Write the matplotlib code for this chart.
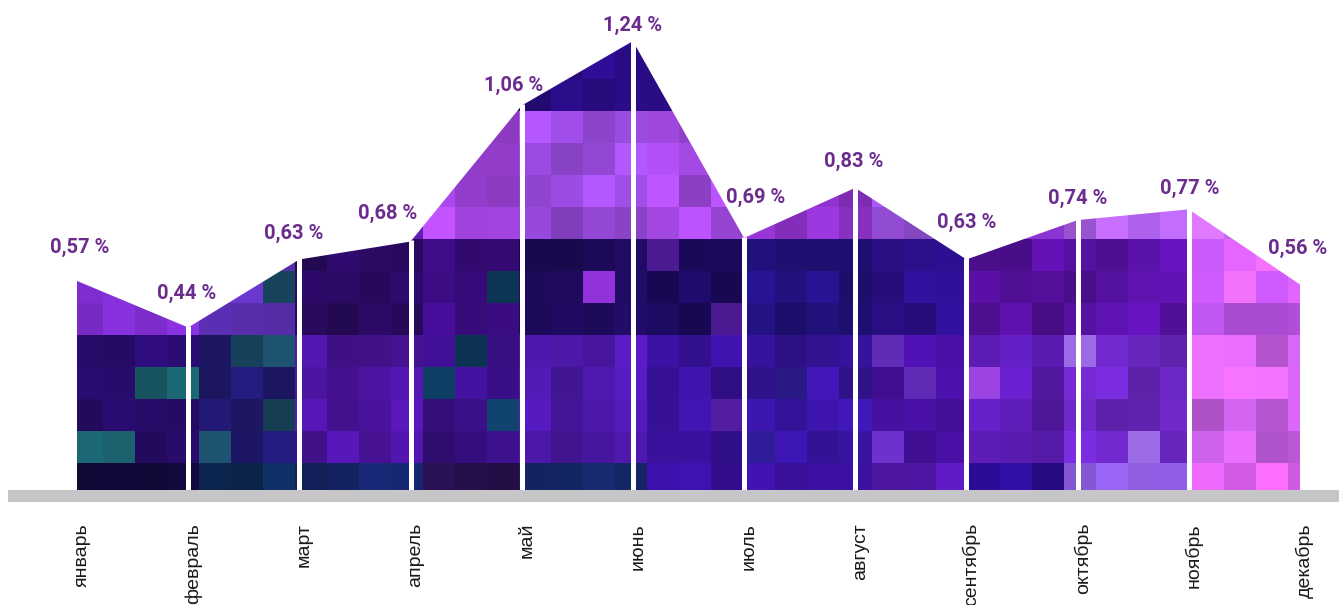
import numpy as np
import matplotlib
matplotlib.use("Agg")
import matplotlib.pyplot as plt
from matplotlib.patches import Polygon
from matplotlib.colors import to_rgb

# ---- data ----
months = ["январь", "февраль", "март", "апрель", "май", "июнь",
          "июль", "август", "сентябрь", "октябрь", "ноябрь", "декабрь"]
values = [0.57, 0.44, 0.63, 0.68, 1.06, 1.24, 0.69, 0.83, 0.63, 0.74, 0.77, 0.56]
value_labels = ["0,57 %", "0,44 %", "0,63 %", "0,68 %", "1,06 %", "1,24 %",
                "0,69 %", "0,83 %", "0,63 %", "0,74 %", "0,77 %", "0,56 %"]

# ---- layout (pixel offsets of value labels from their vertex) ----
label_dx = [3, -2, -6, -23, -8, 0, 12, -2, 0, 0, 1, -2]
label_dy = [33, 34, 26, 28, 20, 16, 41, 26, 37, 22, 21, 36]

# decorative mosaic palette: per month interval, bands bottom/lower/mid/upper
anchors = [
    ['#140a42', '#2a0c6e', '#7a2cc8', '#8a34d4'],
    ['#0e2a58', '#221a74', '#6434c4', '#8a3ad8'],
    ['#162468', '#4c14a0', '#2a0a62', '#5a1aaa'],
    ['#26104c', '#3a1088', '#3c0c84', '#a646e6'],
    ['#142460', '#4c18a8', '#1e0a5a', '#9c4ce2'],
    ['#38109e', '#3a12a0', '#1c0a60', '#a64ae6'],
    ['#3e12a6', '#3814a0', '#221280', '#9434d2'],
    ['#5418ac', '#4610a0', '#2e1092', '#9c52e2'],
    ['#2a0c8e', '#5c1cb4', '#56109e', '#8a34d2'],
    ['#8c5cde', '#6a26c0', '#5a12a8', '#b062f0'],
    ['#e464f8', '#d464f2', '#c256f0', '#c46af0'],
]
accents = ['#195a66', '#1a4a66', '#7a24c8', '#0e3a5e', '#8a30d0', '#5a20b0',
           '#2a1a8a', '#6a30c8', '#9a44e0', '#9868e0', '#f070f8']

W, H, DPI = 1339, 605, 100
fig = plt.figure(figsize=(W / DPI, H / DPI), dpi=DPI)
ax = fig.add_axes([0, 0, 1, 1])

PX_X = 111.18      # pixels per month
X0 = 77            # pixel of first month
PX_Y = 358.0       # pixels per unit
Y0 = 485           # pixel (from top) of zero
ax.set_xlim(-X0 / PX_X, (W - X0) / PX_X)
ax.set_ylim(-(H - Y0) / PX_Y, Y0 / PX_Y)
ax.axis("off")

x = np.arange(len(months))
vals = np.array(values)
base = -10 / PX_Y

# ---- mosaic texture (decoration) ----
ncols, nrows = 39, 15
col_px0 = 71
img = np.zeros((nrows, ncols, 3))
for r in range(nrows):
    yc = 495 - 32 * r - 16
    if yc > 463:
        band = 0
    elif yc > 337:
        band = 1
    elif yc > 240:
        band = 2
    else:
        band = 3
    for c in range(ncols):
        xc = col_px0 + 32 * c + 16
        k = int(np.clip((xc - X0) // PX_X, 0, 10))
        h1 = (np.sin(r * 12.9898 + c * 78.233) * 43758.5453) % 1.0
        h2 = (np.sin(r * 39.3467 + c * 11.135) * 24634.6345) % 1.0
        col = np.array(to_rgb(anchors[k][band]))
        if yc < 115:
            col = np.array(to_rgb('#2a0c84'))
        if h2 < 0.12 and band in (1, 2):
            col = np.array(to_rgb(accents[k]))
        col = np.clip(col * (0.82 + 0.36 * h1), 0, 1)
        img[nrows - 1 - r, c] = col

ext = [(col_px0 - X0) / PX_X, (col_px0 + 32 * ncols - X0) / PX_X,
       (Y0 - 495) / PX_Y, (Y0 - 495 + 32 * nrows) / PX_Y]
im = ax.imshow(img, extent=ext, interpolation="nearest", aspect="auto", zorder=1)

verts = [(x[0], base)] + list(zip(x, vals)) + [(x[-1], base)]
clip = Polygon(verts, closed=True, facecolor="none", edgecolor="none",
               transform=ax.transData)
ax.add_patch(clip)
im.set_clip_path(clip)

# white separators
ax.vlines(x[1:-1], base, vals[1:-1] + 0.004, colors="white", lw=3.6, zorder=3)

# gray baseline bar
ax.axhspan(-17 / PX_Y, -5 / PX_Y, xmin=8 / W, xmax=1, color="#c6c6c8", lw=0, zorder=4)

# value labels
for xi, v, lab, dx, dy in zip(x, vals, value_labels, label_dx, label_dy):
    ax.annotate(lab, (xi, v), xytext=(dx, dy), textcoords="offset pixels",
                ha="center", va="center", fontsize=14.5, fontweight="bold",
                color="#6b2c8e", family="Roboto", zorder=5)

# month labels
for xi, m in zip(x, months):
    ax.text(xi + 5 / PX_X, -38 / PX_Y, m, rotation=90, ha="center", va="top",
            fontsize=14, color="#1a1a1a", family="Liberation Sans", zorder=5)

fig.savefig("out.png", dpi=DPI)
